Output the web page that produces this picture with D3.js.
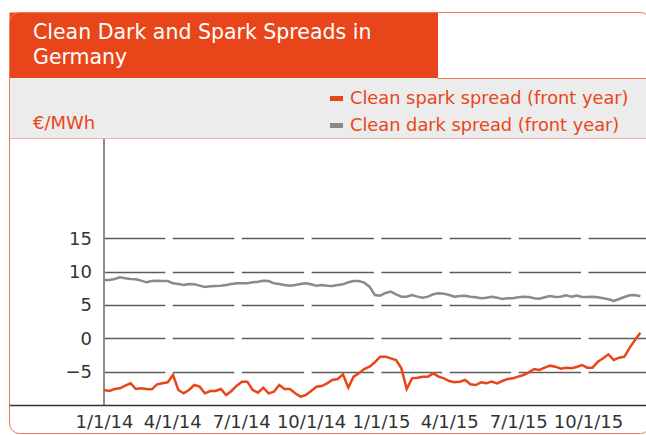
<!DOCTYPE html>
<html>
<head>
<meta charset="utf-8">
<script src="https://cdn.jsdelivr.net/npm/d3@7"></script>
<style>
  body { margin: 0; background: #fff; }
  svg { display: block; font-family: "DejaVu Sans", sans-serif; }
</style>
</head>
<body>
<div id="chart"></div>
<script>
// weekly readings, 2014-01-01 .. 2015-12-09
var dates = [
  "2014-01-01","2014-01-08","2014-01-15","2014-01-22","2014-01-29","2014-02-05","2014-02-12","2014-02-19","2014-02-26","2014-03-05",
  "2014-03-12","2014-03-19","2014-03-26","2014-04-02","2014-04-09","2014-04-16","2014-04-23","2014-04-30","2014-05-07","2014-05-14",
  "2014-05-21","2014-05-28","2014-06-04","2014-06-11","2014-06-18","2014-06-25","2014-07-02","2014-07-09","2014-07-16","2014-07-23",
  "2014-07-30","2014-08-06","2014-08-13","2014-08-20","2014-08-27","2014-09-03","2014-09-10","2014-09-17","2014-09-24","2014-10-01",
  "2014-10-08","2014-10-15","2014-10-22","2014-10-29","2014-11-05","2014-11-12","2014-11-19","2014-11-26","2014-12-03","2014-12-10",
  "2014-12-17","2014-12-24","2014-12-31","2015-01-07","2015-01-14","2015-01-21","2015-01-28","2015-02-04","2015-02-11","2015-02-18",
  "2015-02-25","2015-03-04","2015-03-11","2015-03-18","2015-03-25","2015-04-01","2015-04-08","2015-04-15","2015-04-22","2015-04-29",
  "2015-05-06","2015-05-13","2015-05-20","2015-05-27","2015-06-03","2015-06-10","2015-06-17","2015-06-24","2015-07-01","2015-07-08",
  "2015-07-15","2015-07-22","2015-07-29","2015-08-05","2015-08-12","2015-08-19","2015-08-26","2015-09-02","2015-09-09","2015-09-16",
  "2015-09-23","2015-09-30","2015-10-07","2015-10-14","2015-10-21","2015-10-28","2015-11-04","2015-11-11","2015-11-18","2015-11-25",
  "2015-12-02","2015-12-09"
];
var darkSpread = [
  8.75, 8.75, 8.9, 9.15, 9.0, 8.9, 8.85, 8.65, 8.4, 8.6,
  8.65, 8.6, 8.6, 8.25, 8.15, 8.0, 8.15, 8.1, 7.9, 7.7,
  7.8, 7.85, 7.9, 8.0, 8.15, 8.25, 8.25, 8.25, 8.4, 8.5,
  8.65, 8.6, 8.25, 8.15, 8.0, 7.9, 8.0, 8.15, 8.25, 8.1,
  7.9, 8.0, 7.9, 7.85, 8.0, 8.1, 8.4, 8.6, 8.6, 8.35,
  7.75, 6.5, 6.4, 6.8, 7.0, 6.6, 6.25, 6.25, 6.5, 6.25,
  6.1, 6.25, 6.6, 6.75, 6.7, 6.5, 6.25, 6.35, 6.4, 6.25,
  6.15, 6.0, 6.1, 6.25, 6.1, 5.9, 6.0, 6.0, 6.15, 6.25,
  6.2, 6.0, 5.95, 6.15, 6.35, 6.2, 6.25, 6.45, 6.25, 6.4,
  6.2, 6.2, 6.25, 6.15, 6.0, 5.85, 5.6, 5.9, 6.2, 6.45,
  6.5, 6.3
];
var sparkSpread = [
  -7.75, -7.9, -7.6, -7.5, -7.1, -6.75, -7.6, -7.5, -7.6, -7.65,
  -6.9, -6.75, -6.6, -5.5, -7.75, -8.25, -7.75, -7.0, -7.25, -8.25,
  -7.9, -7.9, -7.6, -8.5, -7.9, -7.1, -6.5, -6.5, -7.75, -8.15,
  -7.4, -8.25, -8.0, -7.0, -7.6, -7.6, -8.25, -8.75, -8.5, -7.9,
  -7.25, -7.15, -6.75, -6.25, -6.1, -5.4, -7.4, -5.75, -5.25, -4.6,
  -4.25, -3.6, -2.75, -2.75, -3.0, -3.25, -4.5, -7.6, -6.0, -5.9,
  -5.75, -5.75, -5.25, -5.75, -6.0, -6.4, -6.6, -6.5, -6.25, -6.9,
  -7.0, -6.6, -6.75, -6.5, -6.75, -6.4, -6.1, -6.0, -5.75, -5.5,
  -5.1, -4.6, -4.75, -4.4, -4.1, -4.25, -4.55, -4.4, -4.5, -4.3,
  -4.0, -4.4, -4.4, -3.5, -3.0, -2.4, -3.25, -2.9, -2.75, -1.4,
  -0.25, 0.85
];
var quarterDates = ["2014-01-01","2014-04-01","2014-07-01","2014-10-01","2015-01-01","2015-04-01","2015-07-01","2015-10-01","2016-01-01"];
var xTickLabels = ["1/1/14","4/1/14","7/1/14","10/1/14","1/1/15","4/1/15","7/1/15","10/1/15"];
var yTicks = [-5, 0, 5, 10, 15];
var seriesNames = ["Clean spark spread (front year)", "Clean dark spread (front year)"];

var orange = "#e8461a";
var grey = "#8a8a8a";
var w = 646, h = 435;
var fontFam = "'DejaVu Sans', sans-serif";

var parse = d3.timeParse("%Y-%m-%d");
var days = dates.map(parse);
var quarters = quarterDates.map(parse);

var svg = d3.select("#chart")
  .append("svg")
  .attr("width", w)
  .attr("height", h);

var x = d3.scaleTime()
  .domain([quarters[0], quarters[7]])
  .range([104, 588]);
var y = d3.scaleLinear()
  .domain([-10, 30])
  .range([405, 138.3]);

// header bands
svg.append("rect")
  .attr("x", 10).attr("y", 78)
  .attr("width", 636).attr("height", 60)
  .attr("fill", "#ececec");
svg.append("line")
  .attr("x1", 438).attr("x2", 646)
  .attr("y1", 78.5).attr("y2", 78.5)
  .attr("stroke", "#ef7a55");
svg.append("line")
  .attr("x1", 10).attr("x2", 646)
  .attr("y1", 138.5).attr("y2", 138.5)
  .attr("stroke", "#e9b4a3");

svg.append("rect")
  .attr("x", 9.5).attr("y", 12.5)
  .attr("width", 428.5).attr("height", 65.5)
  .attr("fill", orange);

// outer frame (right side runs off the picture)
svg.append("rect")
  .attr("x", 9.5).attr("y", 12.5)
  .attr("width", 641).attr("height", 421)
  .attr("rx", 10)
  .attr("fill", "none")
  .attr("stroke", "#ef7a55")
  .attr("stroke-width", 1);

svg.append("text")
  .attr("x", 33).attr("y", 39)
  .attr("fill", "#fff")
  .style("font-size", "20.5px")
  .text("Clean Dark and Spark Spreads in");
svg.append("text")
  .attr("x", 33).attr("y", 64)
  .attr("fill", "#fff")
  .style("font-size", "20.5px")
  .text("Germany");

svg.append("text")
  .attr("x", 33).attr("y", 129)
  .attr("fill", orange)
  .style("font-size", "18px")
  .text("€/MWh");

// legend
var legend = svg.selectAll("g.leg")
  .data(seriesNames)
  .enter()
  .append("g")
  .attr("class", "leg")
  .attr("transform", function(d, i) { return "translate(330," + (104 + i * 27) + ")"; });
legend.append("rect")
  .attr("x", 0).attr("y", -8)
  .attr("width", 13).attr("height", 5)
  .attr("fill", function(d, i) { return i == 0 ? orange : grey; });
legend.append("text")
  .attr("x", 20).attr("y", 0)
  .attr("fill", orange)
  .style("font-size", "17.8px")
  .text(function(d) { return d; });

// gridlines, broken at each quarter
var segs = [];
yTicks.forEach(function(v) {
  for (var i = 0; i < quarters.length - 1; i++) {
    segs.push({ v: v, a: quarters[i], b: quarters[i + 1] });
  }
});
svg.append("g")
  .selectAll("line")
  .data(segs)
  .enter()
  .append("line")
  .attr("x1", function(d) { return x(d.a) + 0.5; })
  .attr("x2", function(d) { return Math.min(x(d.b) - 7, 646); })
  .attr("y1", function(d) { return Math.round(y(d.v)) + 0.5; })
  .attr("y2", function(d) { return Math.round(y(d.v)) + 0.5; })
  .attr("stroke", "#5c5c5c")
  .attr("stroke-width", 1.3);

// axes
var yAxis = svg.append("g")
  .attr("transform", "translate(104,0)")
  .call(d3.axisLeft(y).tickValues(yTicks).tickSize(0).tickPadding(12));
yAxis.select(".domain").remove();
yAxis.selectAll("text")
  .attr("fill", "#333")
  .style("font-size", "18px")
  .style("font-family", fontFam);

var xAxis = svg.append("g")
  .attr("transform", "translate(0,405)")
  .call(d3.axisBottom(x)
    .tickValues(quarters.slice(0, 8))
    .tickFormat(function(d, i) { return xTickLabels[i]; })
    .tickSize(0).tickPadding(10));
xAxis.select(".domain").remove();
xAxis.selectAll("text")
  .attr("fill", "#333")
  .style("font-size", "18px")
  .style("font-family", fontFam);

svg.append("line")
  .attr("x1", 104).attr("x2", 104)
  .attr("y1", 139).attr("y2", 405)
  .attr("stroke", "#8c8c8c")
  .attr("stroke-width", 2);
svg.append("line")
  .attr("x1", 10).attr("x2", 646)
  .attr("y1", 405.5).attr("y2", 405.5)
  .attr("stroke", "#333")
  .attr("stroke-width", 1.3);

// series
var line = d3.line()
  .x(function(d) { return x(d[0]); })
  .y(function(d) { return y(d[1]); });

svg.append("path")
  .datum(days.map(function(d, i) { return [d, darkSpread[i]]; }))
  .attr("d", line)
  .attr("fill", "none")
  .attr("stroke", grey)
  .attr("stroke-width", 2.5);

svg.append("path")
  .datum(days.map(function(d, i) { return [d, sparkSpread[i]]; }))
  .attr("d", line)
  .attr("fill", "none")
  .attr("stroke", orange)
  .attr("stroke-width", 2.5);
</script>
</body>
</html>
